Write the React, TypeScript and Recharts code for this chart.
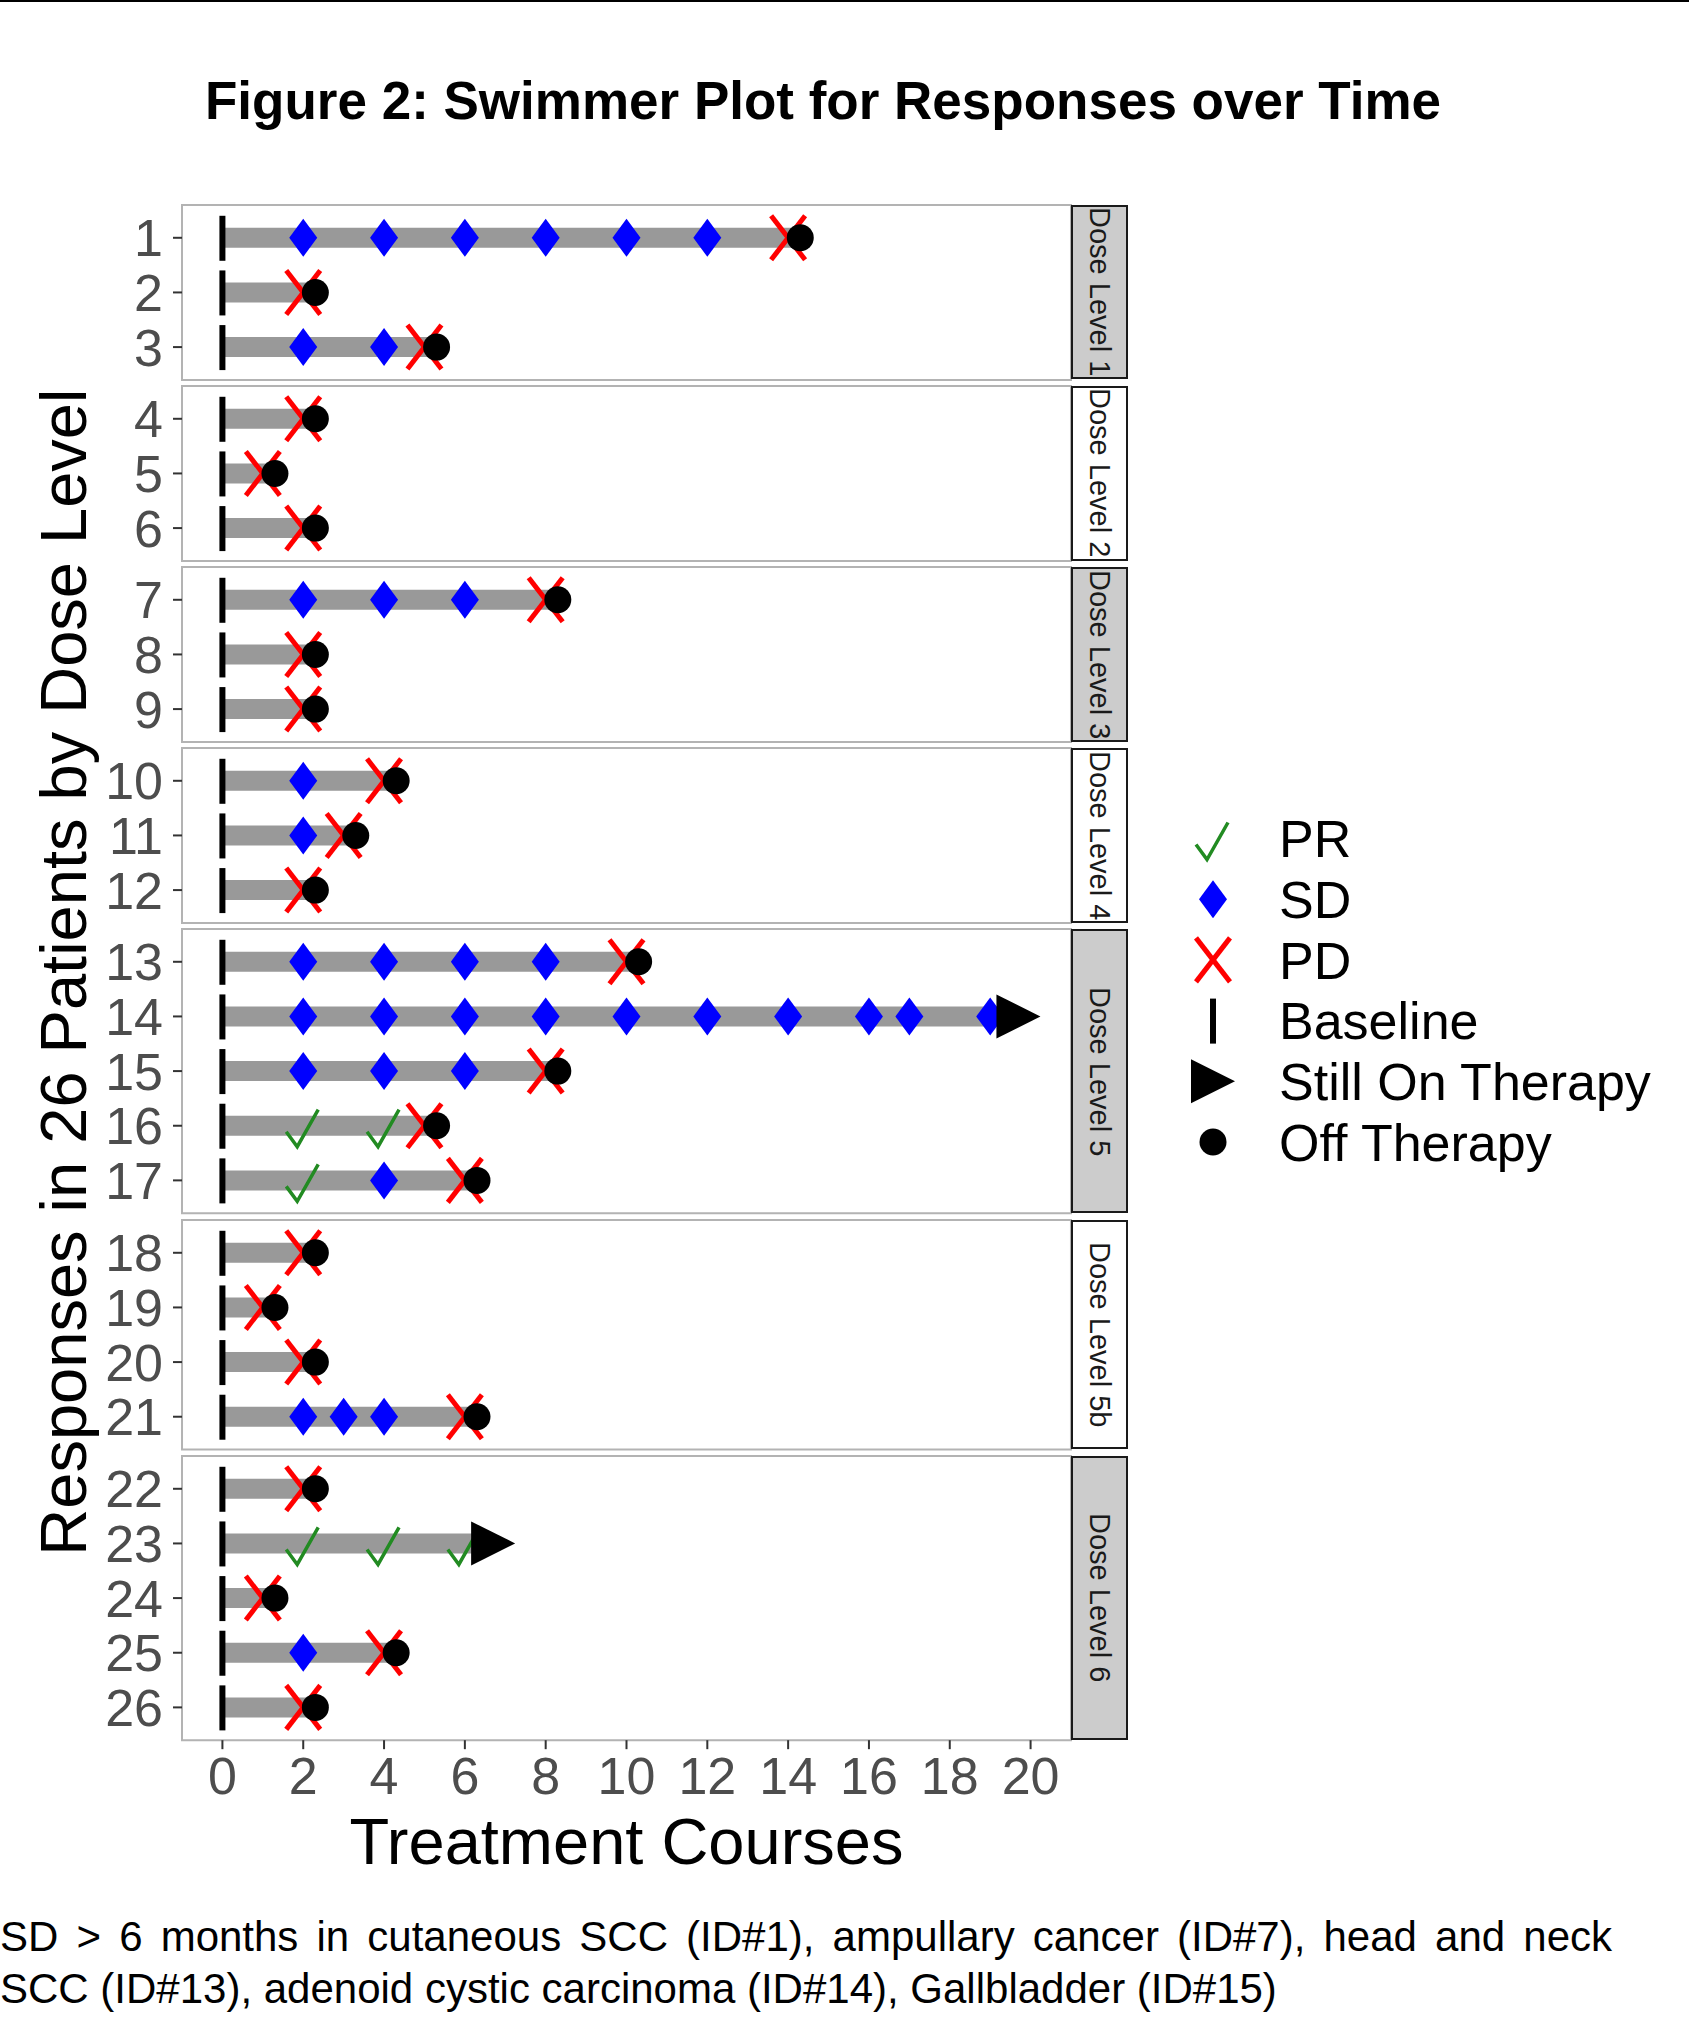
import React from "react";
import { ScatterChart, Scatter, XAxis, YAxis, ReferenceArea } from "recharts";

const FONT = '"Liberation Sans", Arial, Helvetica, sans-serif';

// ---- data ----
const doseLevels = [
  "Dose Level 1",
  "Dose Level 2",
  "Dose Level 3",
  "Dose Level 4",
  "Dose Level 5",
  "Dose Level 5b",
  "Dose Level 6",
];
const dosePatients = [
  [1, 2, 3],
  [4, 5, 6],
  [7, 8, 9],
  [10, 11, 12],
  [13, 14, 15, 16, 17],
  [18, 19, 20, 21],
  [22, 23, 24, 25, 26],
];
// treatment courses at end of bar, patient 1..26
const courseEnd = [
  14.3, 2.3, 5.3, 2.3, 1.3, 2.3, 8.3, 2.3, 2.3, 4.3, 3.3, 2.3, 10.3, 19.2, 8.3,
  5.3, 6.3, 2.3, 1.3, 2.3, 6.3, 2.3, 6.2, 1.3, 4.3, 2.3,
];
const sdCourses: Record<number, number[]> = {
  1: [2, 4, 6, 8, 10, 12],
  3: [2, 4],
  7: [2, 4, 6],
  10: [2],
  11: [2],
  13: [2, 4, 6, 8],
  14: [2, 4, 6, 8, 10, 12, 14, 16, 17, 19],
  15: [2, 4, 6],
  17: [4],
  21: [2, 3, 4],
  25: [2],
};
const prCourses: Record<number, number[]> = {
  16: [2, 4],
  17: [2],
  23: [2, 4, 6],
};
const pdCourse: Record<number, number> = {
  1: 14, 2: 2, 3: 5, 4: 2, 5: 1, 6: 2, 7: 8, 8: 2, 9: 2, 10: 4, 11: 3, 12: 2,
  13: 10, 15: 8, 16: 5, 17: 6, 18: 2, 19: 1, 20: 2, 21: 6, 22: 2, 24: 1, 25: 4, 26: 2,
};
const stillOnTherapy: Record<number, number> = { 14: 19.7, 23: 6.7 };
const xTicks = [0, 2, 4, 6, 8, 10, 12, 14, 16, 18, 20];
const legendLabels = ["PR", "SD", "PD", "Baseline", "Still On Therapy", "Off Therapy"];

// ---- layout ----
const PLOT_LEFT = 182;
const PLOT_RIGHT = 1071;
const PANEL_TOP = 204.5;
const ROW_UNIT = 54.65;
const PANEL_GAP = 6.3;
const STRIP_W = 57;
const stripFills = ["#CCCCCC", "#FFFFFF", "#CCCCCC", "#FFFFFF", "#CCCCCC", "#FFFFFF", "#CCCCCC"];

const panelHeights = dosePatients.map((ids) => (ids.length + 0.2) * ROW_UNIT);
const panelTops = panelHeights.map((_, i) =>
  panelHeights.slice(0, i).reduce((s, h) => s + h + PANEL_GAP, PANEL_TOP)
);

// ---- marker shapes ----
const Empty = () => <g />;
const BaselineMark = ({ cx, cy }: any) => (
  <rect x={cx - 3} y={cy - 22} width={6} height={45} fill="#000" />
);
const DiamondMark = ({ cx, cy }: any) => (
  <polygon
    points={`${cx},${cy - 19} ${cx + 14},${cy} ${cx},${cy + 19} ${cx - 14},${cy}`}
    fill="#0000FF"
  />
);
const CheckMark = ({ cx, cy }: any) => (
  <path
    d={`M${cx - 17},${cy + 6} L${cx - 6},${cy + 21} L${cx + 15},${cy - 16}`}
    fill="none"
    stroke="#228B22"
    strokeWidth={3.5}
    strokeLinejoin="miter"
  />
);
const CrossMark = ({ cx, cy }: any) => (
  <g stroke="#FF0000" strokeWidth={5}>
    <line x1={cx - 17} y1={cy - 22} x2={cx + 17} y2={cy + 22} />
    <line x1={cx + 17} y1={cy - 22} x2={cx - 17} y2={cy + 22} />
  </g>
);
const DotMark = ({ cx, cy }: any) => <circle cx={cx} cy={cy} r={13.5} fill="#000" />;
const TriangleMark = ({ cx, cy }: any) => (
  <polygon points={`${cx - 22},${cy - 22} ${cx + 22},${cy} ${cx - 22},${cy + 22}`} fill="#000" />
);
const legendMarks = [CheckMark, DiamondMark, CrossMark, BaselineMark, TriangleMark, DotMark];

const tickStyle = { fill: "#4D4D4D", fontSize: 52, fontFamily: FONT };
const tickLineStyle = { stroke: "#333333", strokeWidth: 2 };

function Panel({ index }: { index: number }) {
  const ids = dosePatients[index];
  const n = ids.length;
  const isLast = index === dosePatients.length - 1;
  const mt = 4;
  const mb = 4;
  const axisH = isLast ? 90 : 0;
  const rows = ids.map((id, i) => ({ id, y: i + 1 }));

  const bars = rows.map((r) => [
    { x: 0, y: r.y },
    { x: courseEnd[r.id - 1], y: r.y },
  ]);
  const baseline = rows.map((r) => ({ x: 0, y: r.y }));
  const sd = rows.flatMap((r) => (sdCourses[r.id] || []).map((x) => ({ x, y: r.y })));
  const pr = rows.flatMap((r) => (prCourses[r.id] || []).map((x) => ({ x, y: r.y })));
  const pd = rows
    .filter((r) => pdCourse[r.id] !== undefined)
    .map((r) => ({ x: pdCourse[r.id], y: r.y }));
  const off = rows
    .filter((r) => stillOnTherapy[r.id] === undefined)
    .map((r) => ({ x: courseEnd[r.id - 1], y: r.y }));
  const still = rows
    .filter((r) => stillOnTherapy[r.id] !== undefined)
    .map((r) => ({ x: stillOnTherapy[r.id], y: r.y }));

  return (
    <div style={{ position: "absolute", left: 0, top: panelTops[index] - mt }}>
      <ScatterChart
        width={PLOT_RIGHT + 9}
        height={panelHeights[index] + mt + mb + axisH}
        margin={{ top: mt, right: 9, bottom: mb, left: 0 }}
      >
        <XAxis
          type="number"
          dataKey="x"
          domain={[-1, 21]}
          allowDataOverflow
          ticks={xTicks}
          interval={0}
          hide={!isLast}
          height={axisH}
          axisLine={false}
          tickLine={tickLineStyle}
          tickSize={9}
          tickMargin={8}
          tick={tickStyle}
        />
        <YAxis
          type="number"
          dataKey="y"
          domain={[0.4, n + 0.6]}
          allowDataOverflow
          reversed
          ticks={rows.map((r) => r.y)}
          interval={0}
          tickFormatter={(v: number) => String(ids[Math.round(v) - 1])}
          width={PLOT_LEFT}
          axisLine={false}
          tickLine={tickLineStyle}
          tickSize={9}
          tickMargin={10}
          tick={tickStyle}
        />
        <ReferenceArea
          x1={-1}
          x2={21}
          y1={0.4}
          y2={n + 0.6}
          fill="none"
          fillOpacity={0}
          stroke="#B3B3B3"
          strokeWidth={2}
          ifOverflow="visible"
        />
        {bars.map((d, i) => (
          <Scatter
            key={`bar-${i}`}
            data={d}
            line={{ stroke: "#999999", strokeWidth: 20 }}
            shape={Empty}
            isAnimationActive={false}
          />
        ))}
        <Scatter data={baseline} shape={BaselineMark} isAnimationActive={false} />
        <Scatter data={sd} shape={DiamondMark} isAnimationActive={false} />
        <Scatter data={pr} shape={CheckMark} isAnimationActive={false} />
        <Scatter data={pd} shape={CrossMark} isAnimationActive={false} />
        <Scatter data={off} shape={DotMark} isAnimationActive={false} />
        <Scatter data={still} shape={TriangleMark} isAnimationActive={false} />
      </ScatterChart>
    </div>
  );
}

export default function App() {
  const lastBottom = panelTops[panelTops.length - 1] + panelHeights[panelHeights.length - 1];
  const panelMid = (PANEL_TOP + lastBottom) / 2;
  return (
    <div
      style={{
        position: "absolute",
        left: 0,
        top: 0,
        width: 1689,
        height: 2017,
        background: "#fff",
        fontFamily: FONT,
        overflow: "hidden",
      }}
    >
      <div style={{ position: "absolute", left: 0, top: 0, width: 1689, height: 2, background: "#000" }} />

      <svg width={1689} height={2017} style={{ position: "absolute", left: 0, top: 0 }}>
        <text x={823} y={119} textAnchor="middle" fontSize={53} fontWeight="bold" fontFamily={FONT} fill="#000">
          Figure 2: Swimmer Plot for Responses over Time
        </text>
        <text
          transform={`translate(86, ${panelMid}) rotate(-90)`}
          textAnchor="middle"
          fontSize={65}
          fontFamily={FONT}
          fill="#000"
        >
          Responses in 26 Patients by Dose Level
        </text>
        <text
          x={(PLOT_LEFT + PLOT_RIGHT) / 2}
          y={1864}
          textAnchor="middle"
          fontSize={65}
          fontFamily={FONT}
          fill="#000"
        >
          Treatment Courses
        </text>
        {legendLabels.map((label, i) => {
          const Mark = legendMarks[i];
          const cy = 838.5 + i * 60.7;
          return (
            <g key={label}>
              <Mark cx={1213} cy={cy} />
              <text x={1279} y={cy + 18.6} fontSize={52} fontFamily={FONT} fill="#000">
                {label}
              </text>
            </g>
          );
        })}
      </svg>

      {dosePatients.map((_, i) => (
        <Panel key={i} index={i} />
      ))}

      {doseLevels.map((label, i) => (
        <div
          key={label}
          style={{
            position: "absolute",
            left: PLOT_RIGHT,
            top: panelTops[i],
            width: STRIP_W,
            height: panelHeights[i],
            boxSizing: "border-box",
            border: "2px solid #1A1A1A",
            background: stripFills[i],
            display: "flex",
            alignItems: "center",
            justifyContent: "center",
            overflow: "hidden",
          }}
        >
          <span
            style={{
              writingMode: "vertical-rl",
              fontSize: 29,
              fontFamily: FONT,
              color: "#1A1A1A",
              whiteSpace: "nowrap",
            }}
          >
            {label}
          </span>
        </div>
      ))}

      <div
        style={{
          position: "absolute",
          left: 0,
          top: 1911,
          width: 1612,
          fontSize: 42,
          lineHeight: "52px",
          fontFamily: FONT,
          color: "#000",
          textAlign: "justify",
        }}
      >
        SD &gt; 6 months in cutaneous SCC (ID#1), ampullary cancer (ID#7), head and neck SCC (ID#13),
        adenoid cystic carcinoma (ID#14), Gallbladder (ID#15)
      </div>
    </div>
  );
}
